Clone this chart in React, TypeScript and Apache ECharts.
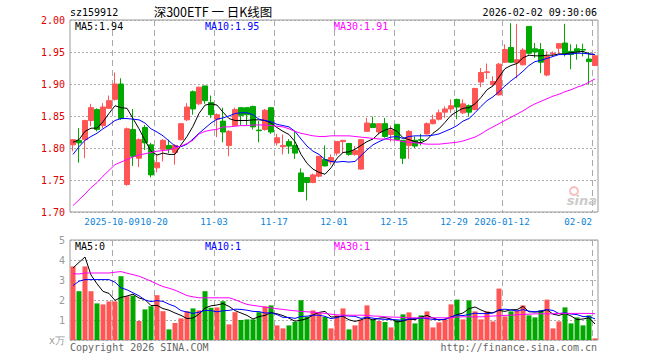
import React, { useEffect, useRef } from "react";
import * as echarts from "echarts";

const dates = [
  "2025-09-22","2025-09-23","2025-09-24","2025-09-25","2025-09-26","2025-09-29","2025-09-30",
  "2025-10-09","2025-10-10","2025-10-13","2025-10-14","2025-10-15","2025-10-16","2025-10-17",
  "2025-10-20","2025-10-21","2025-10-22","2025-10-23","2025-10-24",
  "2025-10-27","2025-10-28","2025-10-29","2025-10-30","2025-10-31",
  "2025-11-03","2025-11-04","2025-11-05","2025-11-06","2025-11-07",
  "2025-11-10","2025-11-11","2025-11-12","2025-11-13","2025-11-14",
  "2025-11-17","2025-11-18","2025-11-19","2025-11-20","2025-11-21",
  "2025-11-24","2025-11-25","2025-11-26","2025-11-27","2025-11-28",
  "2025-12-01","2025-12-02","2025-12-03","2025-12-04","2025-12-05",
  "2025-12-08","2025-12-09","2025-12-10","2025-12-11","2025-12-12",
  "2025-12-15","2025-12-16","2025-12-17","2025-12-18","2025-12-19",
  "2025-12-22","2025-12-23","2025-12-24","2025-12-25","2025-12-26",
  "2025-12-29","2025-12-30","2025-12-31",
  "2026-01-05","2026-01-06","2026-01-07","2026-01-08","2026-01-09",
  "2026-01-12","2026-01-13","2026-01-14","2026-01-15","2026-01-16",
  "2026-01-19","2026-01-20","2026-01-21","2026-01-22","2026-01-23",
  "2026-01-26","2026-01-27","2026-01-28","2026-01-29","2026-01-30",
  "2026-02-02",
];

const opens = [
  1.805,1.812,1.813,1.843,1.860,1.835,1.862,1.876,1.900,1.743,
  1.829,1.784,1.832,1.805,1.769,1.798,1.804,1.793,1.813,1.844,
  1.888,1.869,1.897,1.871,1.845,1.842,1.804,1.835,1.863,1.863,
  1.865,1.828,1.829,1.863,1.808,1.802,1.810,1.804,1.761,1.754,
  1.746,1.756,1.782,1.778,1.792,1.810,1.807,1.790,1.767,1.826,
  1.838,1.825,1.838,1.821,1.837,1.812,1.804,1.812,1.813,1.822,
  1.838,1.845,1.856,1.861,1.876,1.855,1.866,1.860,1.903,1.918,
  1.899,1.883,1.934,1.957,1.933,1.930,1.990,1.955,1.954,1.914,
  1.947,1.956,1.964,1.951,1.955,1.954,1.939,1.929,
];
const closes = [
  1.813,1.808,1.843,1.863,1.829,1.864,1.874,1.900,1.846,1.830,
  1.787,1.813,1.808,1.758,1.777,1.812,1.798,1.804,1.838,1.864,
  1.861,1.895,1.874,1.852,1.852,1.825,1.826,1.860,1.851,1.852,
  1.833,1.827,1.859,1.825,1.816,1.804,1.803,1.792,1.732,1.746,
  1.758,1.787,1.772,1.785,1.810,1.812,1.790,1.796,1.813,1.839,
  1.832,1.838,1.818,1.828,1.813,1.784,1.826,1.803,1.812,1.838,
  1.844,1.855,1.861,1.866,1.864,1.869,1.856,1.893,1.918,1.919,
  1.904,1.931,1.954,1.934,1.938,1.953,1.948,1.950,1.934,1.943,
  1.948,1.963,1.948,1.946,1.950,1.953,1.935,1.944,
];
const lows = [
  1.795,1.777,1.784,1.834,1.826,1.831,1.861,1.874,1.844,1.741,
  1.772,1.770,1.797,1.754,1.762,1.779,1.792,1.774,1.812,1.842,
  1.852,1.867,1.869,1.847,1.817,1.809,1.787,1.835,1.836,1.836,
  1.829,1.809,1.827,1.822,1.804,1.790,1.791,1.783,1.731,1.718,
  1.745,1.754,1.771,1.774,1.788,1.792,1.788,1.788,1.766,1.825,
  1.831,1.821,1.816,1.810,1.813,1.775,1.783,1.800,1.804,1.821,
  1.837,1.843,1.847,1.855,1.845,1.853,1.849,1.859,1.895,1.908,
  1.897,1.882,1.933,1.933,1.909,1.929,1.946,1.941,1.917,1.912,
  1.943,1.948,1.943,1.923,1.938,1.943,1.899,1.928,
];
const highs = [
  1.814,1.831,1.844,1.869,1.862,1.870,1.882,1.918,1.909,1.832,
  1.861,1.815,1.836,1.808,1.790,1.814,1.813,1.806,1.839,1.870,
  1.890,1.896,1.897,1.882,1.854,1.863,1.828,1.863,1.864,1.864,
  1.866,1.842,1.861,1.863,1.822,1.821,1.814,1.826,1.768,1.754,
  1.760,1.787,1.804,1.790,1.810,1.812,1.808,1.803,1.813,1.847,
  1.849,1.839,1.847,1.835,1.837,1.812,1.828,1.818,1.822,1.840,
  1.852,1.860,1.865,1.876,1.877,1.876,1.868,1.894,1.925,1.932,
  1.912,1.933,1.962,1.995,1.994,1.956,1.990,1.964,1.964,1.951,
  1.951,1.964,1.994,1.962,1.962,1.963,1.950,1.945,
];

const ma5 = [
  1.809,1.813,1.826,1.831,1.831,1.841,1.854,1.866,1.863,1.862,
  1.846,1.830,1.812,1.795,1.789,1.792,1.790,1.790,1.805,1.818,
  1.834,1.854,1.867,1.869,1.867,1.856,1.846,1.843,1.843,1.843,
  1.844,1.844,1.843,1.839,1.832,1.826,1.821,1.810,1.790,1.776,
  1.767,1.762,1.759,1.769,1.784,1.793,1.794,1.798,1.804,1.810,
  1.814,1.823,1.828,1.831,1.826,1.816,1.813,1.810,1.808,1.813,
  1.823,1.830,1.840,1.851,1.857,1.862,1.863,1.869,1.879,1.891,
  1.897,1.911,1.924,1.929,1.932,1.941,1.945,1.944,1.944,1.945,
  1.945,1.947,1.947,1.949,1.950,1.951,1.947,1.946,
];
const ma10 = [
  1.790,1.802,1.812,1.818,1.823,1.830,1.836,1.843,1.846,1.846,
  1.845,1.844,1.839,1.830,1.825,1.819,1.811,1.803,1.802,1.806,
  1.814,1.823,1.831,1.839,1.845,1.847,1.850,1.854,1.855,1.855,
  1.852,1.845,1.843,1.841,1.837,1.835,1.833,1.826,1.814,1.803,
  1.795,1.790,1.782,1.779,1.778,1.779,1.778,1.779,1.788,1.797,
  1.805,1.810,1.814,1.817,1.818,1.815,1.818,1.819,1.819,1.819,
  1.820,1.822,1.826,1.830,1.835,1.842,1.846,1.855,1.865,1.874,
  1.880,1.888,1.897,1.905,1.912,1.920,1.929,1.935,1.937,1.940,
  1.943,1.946,1.946,1.947,1.948,1.948,1.947,1.946,
];
const ma30 = [
  1.710,1.719,1.728,1.738,1.746,1.756,1.765,1.774,1.778,1.782,
  1.786,1.789,1.791,1.793,1.795,1.796,1.797,1.800,1.803,1.807,
  1.812,1.822,1.826,1.828,1.829,1.833,1.833,1.834,1.835,1.835,
  1.836,1.836,1.836,1.835,1.834,1.833,1.830,1.826,1.823,1.821,
  1.819,1.818,1.818,1.819,1.819,1.819,1.819,1.818,1.817,1.816,
  1.815,1.814,1.814,1.813,1.812,1.810,1.809,1.808,1.807,1.806,
  1.806,1.806,1.807,1.808,1.809,1.811,1.814,1.817,1.822,1.828,
  1.833,1.838,1.843,1.848,1.853,1.858,1.864,1.869,1.873,1.877,
  1.881,1.884,1.888,1.891,1.895,1.898,1.903,1.908,
];

// volume in 万
const volumes = [
  3.68,2.44,3.68,2.44,1.83,1.78,1.93,1.93,3.19,2.19,
  2.22,0.95,1.53,1.69,2.24,1.44,0.53,0.85,1.08,1.44,
  1.58,1.48,2.44,1.61,1.63,1.94,0.78,1.39,1.00,1.03,
  1.03,1.39,1.68,1.73,0.73,0.58,0.73,0.91,1.99,1.16,
  1.48,1.36,1.15,0.58,1.23,1.58,0.53,0.73,1.00,1.73,
  1.03,0.95,0.90,0.63,1.00,1.28,1.38,0.83,1.23,1.43,
  0.63,0.88,1.03,1.78,2.02,1.03,1.98,1.43,1.03,1.43,
  0.93,2.57,1.18,1.43,1.48,1.73,1.23,1.13,1.48,2.02,
  0.58,0.93,1.63,0.83,1.13,0.73,1.23,0.08,
];
const volMa5 = [
  3.60,3.88,4.15,3.25,2.81,2.43,2.33,1.98,2.13,2.20,
  2.29,2.10,2.02,1.72,1.73,1.57,1.49,1.35,1.23,1.07,
  1.10,1.29,1.60,1.71,1.75,1.82,1.68,1.47,1.35,1.23,
  1.05,1.17,1.23,1.37,1.31,1.22,1.09,0.94,0.99,1.07,
  1.25,1.38,1.43,1.15,1.16,1.18,1.01,0.93,1.01,1.11,
  1.00,1.09,1.12,1.05,0.90,0.95,1.04,1.02,1.14,1.23,
  1.10,1.00,1.04,1.15,1.27,1.35,1.57,1.65,1.50,1.38,
  1.36,1.48,1.43,1.51,1.52,1.68,1.41,1.40,1.41,1.52,
  1.29,1.23,1.33,1.20,1.02,1.05,1.11,0.80,
];
const volMa10 = [
  2.72,2.94,3.02,3.02,3.02,3.02,3.02,2.89,2.61,2.51,
  2.36,2.21,2.00,1.92,1.97,1.93,1.79,1.68,1.47,1.40,
  1.33,1.39,1.48,1.47,1.41,1.46,1.48,1.54,1.53,1.49,
  1.43,1.42,1.35,1.36,1.27,1.13,1.13,1.08,1.18,1.19,
  1.24,1.24,1.18,1.07,1.12,1.22,1.20,1.18,1.08,1.14,
  1.09,1.05,1.03,1.03,1.01,0.98,1.06,1.07,1.10,1.07,
  1.03,1.02,1.03,1.15,1.25,1.22,1.28,1.34,1.32,1.32,
  1.35,1.52,1.54,1.50,1.45,1.52,1.44,1.41,1.46,1.52,
  1.48,1.32,1.36,1.30,1.27,1.17,1.17,1.06,
];
const volMa30 = [
  3.32,3.30,3.35,3.35,3.35,3.35,3.35,3.39,3.42,3.34,
  3.27,3.19,3.07,2.94,2.80,2.67,2.59,2.49,2.36,2.22,
  2.16,2.11,2.11,2.11,2.11,2.11,2.11,2.02,1.89,1.78,
  1.73,1.69,1.64,1.61,1.56,1.53,1.49,1.46,1.43,1.41,
  1.39,1.36,1.33,1.29,1.26,1.24,1.24,1.24,1.24,1.23,
  1.20,1.19,1.16,1.15,1.14,1.13,1.11,1.11,1.11,1.11,
  1.11,1.11,1.11,1.11,1.15,1.16,1.16,1.16,1.16,1.18,
  1.20,1.21,1.23,1.24,1.26,1.28,1.29,1.31,1.31,1.31,
  1.31,1.33,1.33,1.33,1.33,1.33,1.33,1.31,
];

const tickDates = ["2025-10-09","2025-10-20","2025-11-03","2025-11-17","2025-12-01","2025-12-15","2025-12-29","2026-01-12","2026-02-02"];
const tickLabels = ["2025-10-09","10-20","11-03","11-17","12-01","12-15","12-29","2026-01-12","02-02"];

const symbolCode = "sz159912";
const chartTitle = "深300ETF 一 日K线图";
const timeStamp = "2026-02-02 09:30:06";
const priceLegend = ["MA5:1.94", "MA10:1.95", "MA30:1.91"];
const volLegend = ["MA5:0", "MA10:1", "MA30:1"];

const UP = "#ff5555";
const DOWN = "#00a800";
const MONO = '"DejaVu Sans Mono", "Liberation Mono", monospace';
const GRID_LINE = "#aaaaaa";

export default function App() {
  const ref = useRef<HTMLDivElement>(null);

  useEffect(() => {
    if (!ref.current) return;
    const chart = echarts.init(ref.current, undefined, { renderer: "svg" });

    const bounds = [...dates, "end"];
    const isTick = (_i: number, v: string) => tickDates.indexOf(v) >= 0;
    // labels are split over stacked axes (alternate ticks; last one right-aligned)
    const groupOf = (k: number) => (k === tickDates.length - 1 ? 2 : k % 2);
    const isTickGroup = (g: number) => (_i: number, v: string) => {
      const k = tickDates.indexOf(v);
      return k >= 0 && groupOf(k) === g;
    };
    const tickFmt = (v: string) => {
      const k = tickDates.indexOf(v);
      return k >= 0 ? tickLabels[k] : "";
    };

    const candleData = dates.map((_, i) => [opens[i], closes[i], lows[i], highs[i]]);
    const volData = volumes.map((v, i) => ({
      value: v,
      itemStyle: { color: closes[i] >= opens[i] ? UP : DOWN },
    }));

    const lineS = (name: string, data: number[], color: string, xi: number, yi: number) => ({
      type: "line",
      name,
      data,
      xAxisIndex: xi,
      yAxisIndex: yi,
      symbol: "none",
      showSymbol: false,
      lineStyle: { color, width: 1 },
      itemStyle: { color },
      silent: true,
      z: 5,
    });

    const splitV = {
      show: true,
      interval: isTick,
      lineStyle: { type: [6, 4], color: GRID_LINE, width: 1 },
    };

    const labelAxis = (g: number, align: string) => ({
      type: "category", gridIndex: 0, data: bounds, boundaryGap: false, position: "bottom",
      axisLine: { show: false }, axisTick: { show: false },
      axisLabel: {
        interval: isTickGroup(g), formatter: tickFmt, color: "#0b84d8", fontFamily: MONO, fontSize: 9.2, margin: 5,
        hideOverlap: false, align,
      },
      splitLine: { show: false },
    });

    const legendColors = ["#000000", "#0000ff", "#ff00ff"];
    const legendX = [75, 205, 334];

    const option: any = {
      animation: false,
      backgroundColor: "#ffffff",
      grid: [
        { left: 70, top: 20, width: 528, height: 192, show: true, borderColor: "#999999", borderWidth: 1, backgroundColor: "transparent" },
        { left: 70, top: 240, width: 528, height: 100, show: true, borderColor: "#999999", borderWidth: 1, backgroundColor: "transparent" },
      ],
      xAxis: [
        { type: "category", gridIndex: 0, data: dates, boundaryGap: true, position: "top", show: false },
        {
          type: "category", gridIndex: 0, data: bounds, boundaryGap: false, position: "top",
          axisLine: { show: false }, axisTick: { show: false }, axisLabel: { show: false },
          splitLine: splitV,
        },
        { type: "category", gridIndex: 1, data: dates, boundaryGap: true, position: "top", show: false },
        {
          type: "category", gridIndex: 1, data: bounds, boundaryGap: false, position: "bottom",
          axisLine: { show: false }, axisTick: { show: false },
          axisLabel: { show: false },
          splitLine: splitV,
        },
        labelAxis(0, "center"),
        labelAxis(1, "center"),
        labelAxis(2, "right"),
      ],
      yAxis: [
        {
          type: "value", gridIndex: 0, min: 1.7, max: 2.0, interval: 0.05,
          axisLine: { show: false }, axisTick: { show: false },
          axisLabel: { formatter: (v: number) => v.toFixed(2), color: "#e00000", fontFamily: MONO, fontSize: 10, margin: 5 },
          splitLine: { show: true, lineStyle: { type: [2, 2], color: GRID_LINE, width: 1 } },
        },
        {
          type: "value", gridIndex: 1, min: 0, max: 5, interval: 1,
          axisLine: { show: false }, axisTick: { show: false },
          axisLabel: { formatter: (v: number) => (v === 0 ? "x万" : String(v)), color: "#999999", fontFamily: MONO, fontSize: 10, margin: 5 },
          splitLine: { show: true, lineStyle: { type: [2, 2], color: GRID_LINE, width: 1 } },
        },
      ],
      series: [
        {
          type: "candlestick",
          data: candleData,
          xAxisIndex: 0,
          yAxisIndex: 0,
          barWidth: 5,
          itemStyle: { color: UP, color0: DOWN, borderColor: UP, borderColor0: DOWN, borderWidth: 1 },
          silent: true,
          z: 3,
        },
        lineS("MA5", ma5, "#000000", 0, 0),
        lineS("MA10", ma10, "#0000ff", 0, 0),
        lineS("MA30", ma30, "#ff00ff", 0, 0),
        {
          type: "bar",
          data: volData,
          xAxisIndex: 2,
          yAxisIndex: 1,
          barWidth: 5,
          silent: true,
          z: 3,
        },
        lineS("VMA5", volMa5, "#000000", 2, 1),
        lineS("VMA10", volMa10, "#0000ff", 2, 1),
        lineS("VMA30", volMa30, "#ff00ff", 2, 1),
      ],
      graphic: [
        { type: "text", x: 70, y: 12, style: { text: symbolCode, fill: "#000", font: `10px ${MONO}`, textAlign: "left", textVerticalAlign: "middle" } },
        { type: "text", x: 213, y: 11, style: { text: chartTitle, fill: "#000", font: '12.5px "Noto Sans CJK SC", sans-serif', textAlign: "center", textVerticalAlign: "middle" } },
        { type: "text", x: 597, y: 12, style: { text: timeStamp, fill: "#000", font: `10px ${MONO}`, textAlign: "right", textVerticalAlign: "middle" } },
        ...priceLegend.map((t, k) => ({ type: "text", x: legendX[k], y: 26, z: 10, style: { text: t, fill: legendColors[k], font: `10px ${MONO}`, textAlign: "left", textVerticalAlign: "middle" } })),
        ...volLegend.map((t, k) => ({ type: "text", x: legendX[k], y: 246, z: 10, style: { text: t, fill: legendColors[k], font: `10px ${MONO}`, textAlign: "left", textVerticalAlign: "middle" } })),
        { type: "text", x: 70, y: 347, style: { text: "Copyright 2026 SINA.COM", fill: "#666666", font: `10px ${MONO}`, textAlign: "left", textVerticalAlign: "middle" } },
        { type: "text", x: 597, y: 347, style: { text: "http://finance.sina.com.cn", fill: "#666666", font: `10px ${MONO}`, textAlign: "right", textVerticalAlign: "middle" } },
        { type: "circle", shape: { cx: 574, cy: 191, r: 4 }, style: { fill: "none", stroke: "#f4c0c0", lineWidth: 2 }, z: 1 },
        { type: "text", x: 597, y: 200, z: 1, style: { text: "sina", fill: "#cccccc", font: 'italic bold 13px "DejaVu Sans", sans-serif', textAlign: "right", textVerticalAlign: "middle" } },
      ],
    };

    chart.setOption(option);
    return () => chart.dispose();
  }, []);

  return <div ref={ref} style={{ position: "absolute", left: 0, top: 0, width: 660, height: 360 }} />;
}
